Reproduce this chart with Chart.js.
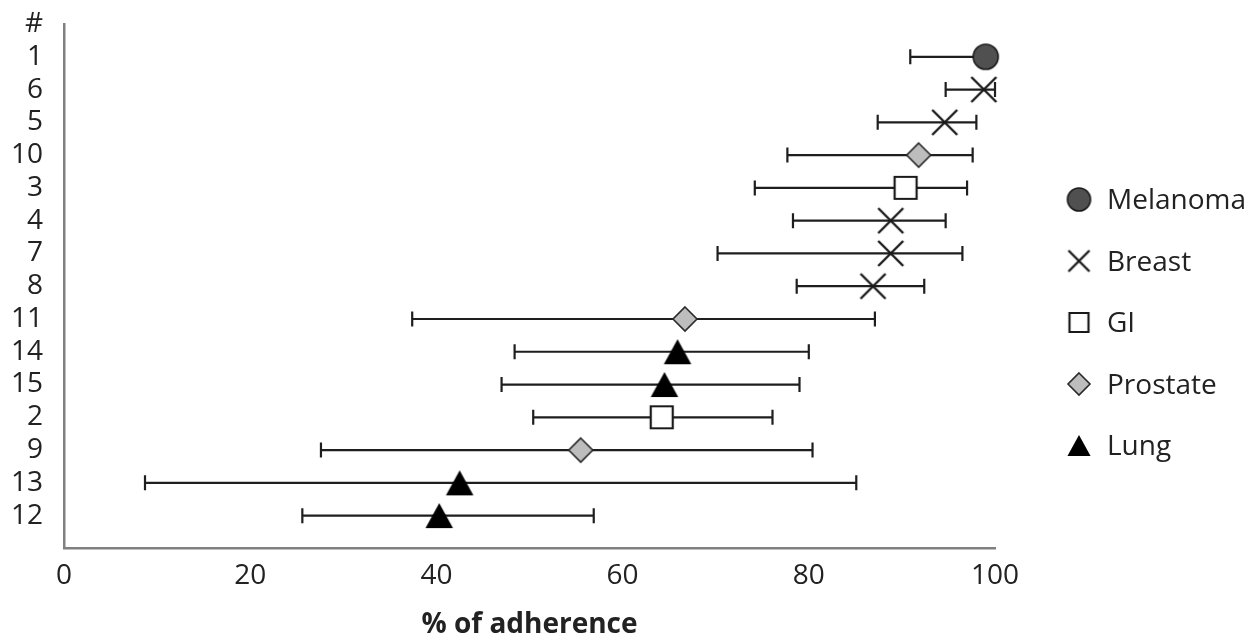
<!DOCTYPE html>
<html><head><meta charset="utf-8">
<script src="https://cdn.jsdelivr.net/npm/chart.js@4.4.0/dist/chart.umd.min.js"></script>
<style>html,body{margin:0;padding:0;background:#fff;} #wrap{width:1257px;height:639px;}</style>
</head><body>
<div id="wrap"><canvas id="c" width="1257" height="639"></canvas></div>
<script>
// ---- data ----
const yLabels = ['#','1','6','5','10','3','4','7','8','11','14','15','2','9','13','12',''];
const studies = ['1','6','5','10','3','4','7','8','11','14','15','2','9','13','12'];
const studyType = ['Melanoma','Breast','Breast','Prostate','GI','Breast','Breast','Breast','Prostate','Lung','Lung','GI','Prostate','Lung','Lung'];
const adherence = [99.0, 98.8, 94.6, 91.8, 90.4, 88.8, 88.8, 86.9, 66.7, 65.9, 64.5, 64.2, 55.5, 42.5, 40.3];
const lowerCI   = [90.9, 94.7, 87.4, 77.7, 74.2, 78.3, 70.2, 78.7, 37.4, 48.4, 47.0, 50.4, 27.6, 8.7, 25.6];
const upperCI   = [100, 100, 98.0, 97.6, 97.0, 94.7, 96.5, 92.4, 87.1, 80.0, 79.0, 76.1, 80.4, 85.1, 56.9];
const cancerTypes = ['Melanoma','Breast','GI','Prostate','Lung'];
const xTicks = [0, 20, 40, 60, 80, 100];
const xTitle = '% of adherence';

// ---- marker drawing ----
function makeMarker(type, size) {
  const pad = 3;
  const w = type === 'Lung' ? size * 1.1 : size;
  const c = document.createElement('canvas');
  c.width = Math.ceil(w + pad * 2);
  c.height = Math.ceil(size + pad * 2);
  const ctx = c.getContext('2d');
  const mx = c.width / 2, my = c.height / 2, h = size / 2, hw = w / 2;
  ctx.lineJoin = 'miter';
  ctx.beginPath();
  if (type === 'Melanoma') {
    ctx.arc(mx, my, h, 0, Math.PI * 2);
    ctx.fillStyle = '#505050'; ctx.fill();
    ctx.lineWidth = 1.6; ctx.strokeStyle = '#1a1a1a'; ctx.stroke();
  } else if (type === 'Breast') {
    ctx.moveTo(mx - h, my - h); ctx.lineTo(mx + h, my + h);
    ctx.moveTo(mx + h, my - h); ctx.lineTo(mx - h, my + h);
    ctx.lineWidth = 2.4; ctx.strokeStyle = '#1a1a1a'; ctx.stroke();
  } else if (type === 'GI') {
    ctx.rect(mx - h + 1, my - h + 1, size - 2, size - 2);
    ctx.fillStyle = '#ffffff'; ctx.fill();
    ctx.lineWidth = 2.2; ctx.strokeStyle = '#1a1a1a'; ctx.stroke();
  } else if (type === 'Prostate') {
    ctx.moveTo(mx, my - h); ctx.lineTo(mx + h, my); ctx.lineTo(mx, my + h); ctx.lineTo(mx - h, my);
    ctx.closePath();
    ctx.fillStyle = '#bdbdbd'; ctx.fill();
    ctx.lineWidth = 1.6; ctx.strokeStyle = '#2a2a2a'; ctx.stroke();
  } else if (type === 'Lung') {
    ctx.moveTo(mx, my - h); ctx.lineTo(mx + hw, my + h); ctx.lineTo(mx - hw, my + h);
    ctx.closePath();
    ctx.fillStyle = '#000000'; ctx.fill();
  }
  return c;
}
const dataSizes = {Melanoma: 25, Breast: 25, GI: 24, Prostate: 24, Lung: 25};
const legendSizes = {Melanoma: 23, Breast: 21, GI: 21, Prostate: 22, Lung: 21};

const datasets = cancerTypes.map(t => {
  const pts = [];
  studies.forEach((s, i) => {
    if (studyType[i] === t) pts.push({x: adherence[i], y: s, lo: lowerCI[i], hi: upperCI[i]});
  });
  return {
    label: t,
    data: pts,
    showLine: false,
    pointStyle: makeMarker(t, dataSizes[t]),
    legendMarker: makeMarker(t, legendSizes[t]),
    pointRadius: 12,
    pointHoverRadius: 12,
    clip: false
  };
});

const FONT = '"Open Sans", sans-serif';

const errorBars = {
  id: 'errorBars',
  beforeDatasetsDraw(chart) {
    const {ctx, scales: {x}} = chart;
    ctx.save();
    ctx.strokeStyle = '#1e1e1e';
    ctx.lineWidth = 2.2;
    chart.data.datasets.forEach((ds, di) => {
      const meta = chart.getDatasetMeta(di);
      ds.data.forEach((p, i) => {
        const yp = meta.data[i].y;
        const x1 = x.getPixelForValue(p.lo), x2 = x.getPixelForValue(p.hi);
        ctx.beginPath();
        ctx.moveTo(x1, yp); ctx.lineTo(x2, yp);
        ctx.moveTo(x1, yp - 7.5); ctx.lineTo(x1, yp + 7.5);
        ctx.moveTo(x2, yp - 7.5); ctx.lineTo(x2, yp + 7.5);
        ctx.stroke();
      });
    });
    ctx.restore();
  }
};

// legend drawn at the right of the plot
const sideLegend = {
  id: 'sideLegend',
  afterDraw(chart) {
    const {ctx} = chart;
    ctx.save();
    ctx.font = '28px ' + FONT;
    ctx.fillStyle = '#222';
    ctx.textAlign = 'left';
    ctx.textBaseline = 'alphabetic';
    chart.data.datasets.forEach((ds, i) => {
      const base = 209 + 61.5 * i;
      const m = ds.legendMarker;
      ctx.drawImage(m, 1079 - m.width / 2, base - 9.5 - m.height / 2);
      ctx.fillText(ds.label, 1107, base);
    });
    ctx.restore();
  }
};

new Chart(document.getElementById('c'), {
  type: 'scatter',
  data: {datasets},
  plugins: [errorBars, sideLegend],
  options: {
    responsive: false,
    animation: false,
    devicePixelRatio: 1,
    layout: {padding: {left: 0, right: 262, top: 24, bottom: 0}},
    scales: {
      x: {
        type: 'linear', min: 0, max: 100,
        afterBuildTicks: s => { s.ticks = xTicks.map(v => ({value: v})); },
        grid: {display: false, drawTicks: false},
        border: {display: true, color: '#808080', width: 2.5},
        ticks: {font: {family: FONT, size: 28}, color: '#222', padding: 11, maxRotation: 0},
        title: {display: true, text: xTitle, font: {family: FONT, size: 28, weight: 'bold', lineHeight: 1.0}, color: '#222', padding: {top: 7, bottom: 0}}
      },
      y: {
        type: 'category', labels: yLabels, offset: false,
        afterFit: s => { s.width = 64; },
        grid: {display: false, drawTicks: true, tickLength: 21, tickColor: 'rgba(0,0,0,0)'},
        border: {display: true, color: '#808080', width: 2.5},
        ticks: {font: {family: FONT, size: 28}, color: '#222', padding: 0, autoSkip: false}
      }
    },
    plugins: {
      tooltip: {enabled: false},
      legend: {display: false}
    }
  }
});
</script>
</body></html>
